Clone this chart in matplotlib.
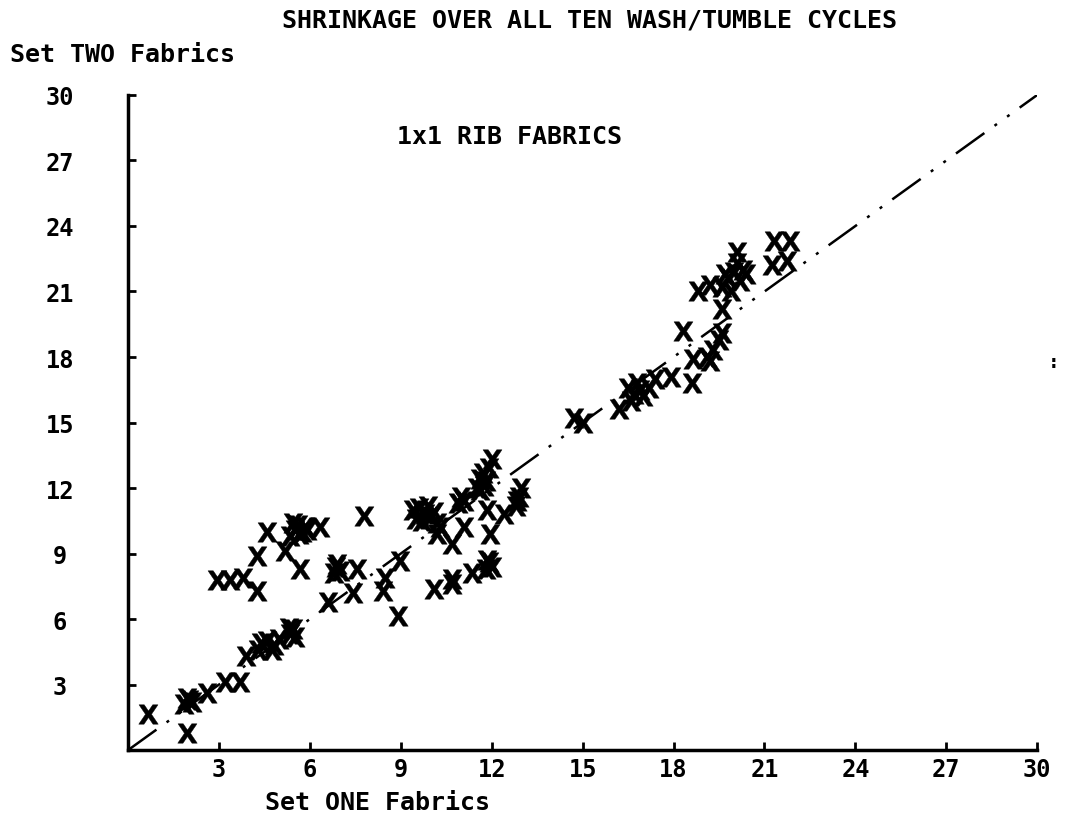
import matplotlib.pyplot as plt

# Set ONE (x) vs Set TWO (y) shrinkage
set_one = [0.67, 1.95, 1.85, 2.0, 2.1, 1.95, 2.6, 3.2, 3.7, 3.9,
           4.4, 4.3, 4.75, 4.97, 4.6, 4.8, 5.35, 5.45, 5.5, 5.3,
           2.94, 3.38, 3.8, 4.25, 4.25, 4.58, 5.19,
           5.35, 5.5, 5.6, 5.75, 5.85, 5.45, 5.65, 5.9, 6.34, 5.68,
           6.6, 6.8, 6.9, 7.0, 6.85, 7.54, 7.43, 7.8,
           8.4, 8.47, 8.9, 8.97,
           9.4, 9.6, 9.8, 9.7, 10.0, 10.2, 9.5, 9.9, 10.1, 10.3,
           10.2, 10.7, 11.1, 10.9, 11.0, 11.1,
           10.1, 10.7, 10.7, 11.35, 11.8, 11.9, 12.0, 11.85,
           11.95, 11.85, 12.4,
           11.5, 11.6, 11.7, 11.8, 11.9, 12.0, 11.6, 11.75,
           12.8, 12.9, 12.95, 12.85,
           14.7, 15.0, 16.2,
           16.5, 16.7, 16.9, 17.0, 16.8, 17.2, 16.6,
           17.4, 17.9, 18.6, 18.3, 18.65,
           19.1, 19.3, 19.5, 19.6, 19.2,
           19.6, 18.8, 19.2,
           19.6, 19.8, 20.0, 20.2, 20.3, 19.9, 20.4, 20.1, 19.7,
           20.1, 21.3, 21.85, 21.25, 21.75]
set_two = [1.65, 0.8, 2.1, 2.3, 2.2, 2.4, 2.6, 3.1, 3.1, 4.3,
           4.9, 4.6, 4.6, 5.1, 5.0, 4.8, 5.3, 5.55, 5.2, 5.6,
           7.8, 7.8, 7.9, 7.3, 8.9, 9.97, 9.1,
           9.8, 10.1, 10.3, 10.0, 10.2, 10.4, 9.9, 10.1, 10.2, 8.3,
           6.76, 8.1, 8.5, 8.2, 8.4, 8.3, 7.2, 10.7,
           7.3, 7.9, 6.15, 8.67,
           11.0, 11.1, 10.8, 10.5, 10.7, 10.4, 10.6, 11.2, 10.9, 10.2,
           9.9, 9.45, 10.2, 11.3, 11.6, 11.4,
           7.4, 7.85, 7.6, 8.1, 8.3, 8.6, 8.4, 8.7,
           9.9, 11.0, 10.8,
           12.0, 12.4, 12.7, 12.3, 12.9, 13.35, 11.9, 12.1,
           11.2, 11.6, 12.0, 11.4,
           15.2, 15.0, 15.6,
           16.6, 16.3, 16.5, 16.2, 16.8, 16.6, 16.0,
           17.0, 17.1, 16.8, 19.2, 17.9,
           18.0, 18.3, 18.8, 19.1, 17.8,
           20.2, 21.0, 21.3,
           21.2, 21.6, 21.9, 21.5, 22.0, 21.0, 21.8, 22.3, 21.8,
           22.8, 23.3, 23.3, 22.2, 22.4]
ticks = [3, 6, 9, 12, 15, 18, 21, 24, 27, 30]
ref_line = [0, 30]

plt.rcParams['font.family'] = ['DejaVu Sans Mono']
plt.rcParams['font.weight'] = 'bold'
fs = 18

fig = plt.figure(figsize=(10.76, 8.2), dpi=100)
ax = fig.add_axes([0.119, 0.084, 0.845, 0.799])

# line of equality, dash + dots
ax.plot(ref_line, ref_line, color='black', lw=1.8,
        ls=(0, (14, 5, 1.2, 5, 1.2, 5)))

ax.plot(set_one, set_two, ls='none', marker=r'$\mathsf{X}$',
        ms=14, color='black', mew=0.3)

ax.set_xlim(0, 30)
ax.set_ylim(0, 30)
ax.set_xticks(ticks)
ax.set_yticks(ticks)
ax.tick_params(direction='in', length=6, width=2, labelsize=fs - 1)
ax.tick_params(axis='y', pad=49)
for lab in ax.get_yticklabels():
    lab.set_horizontalalignment('center')
ax.tick_params(axis='x', pad=5)

for s in ['top', 'right']:
    ax.spines[s].set_visible(False)
for s in ['left', 'bottom']:
    ax.spines[s].set_linewidth(2.5)

ax.text(12.6, 28.1, '1x1 RIB FABRICS', fontsize=fs,
        ha='center', va='center')

fig.text(0.548, 0.975, 'SHRINKAGE OVER ALL TEN WASH/TUMBLE CYCLES',
         fontsize=fs, ha='center', va='center')
fig.text(0.009, 0.933, 'Set TWO Fabrics', fontsize=fs, ha='left', va='center')
fig.text(0.351, 0.021, 'Set ONE Fabrics', fontsize=fs, ha='center', va='center')
fig.text(0.979, 0.558, ':', fontsize=14, ha='center', va='center')

fig.savefig('out.png', dpi=100)
